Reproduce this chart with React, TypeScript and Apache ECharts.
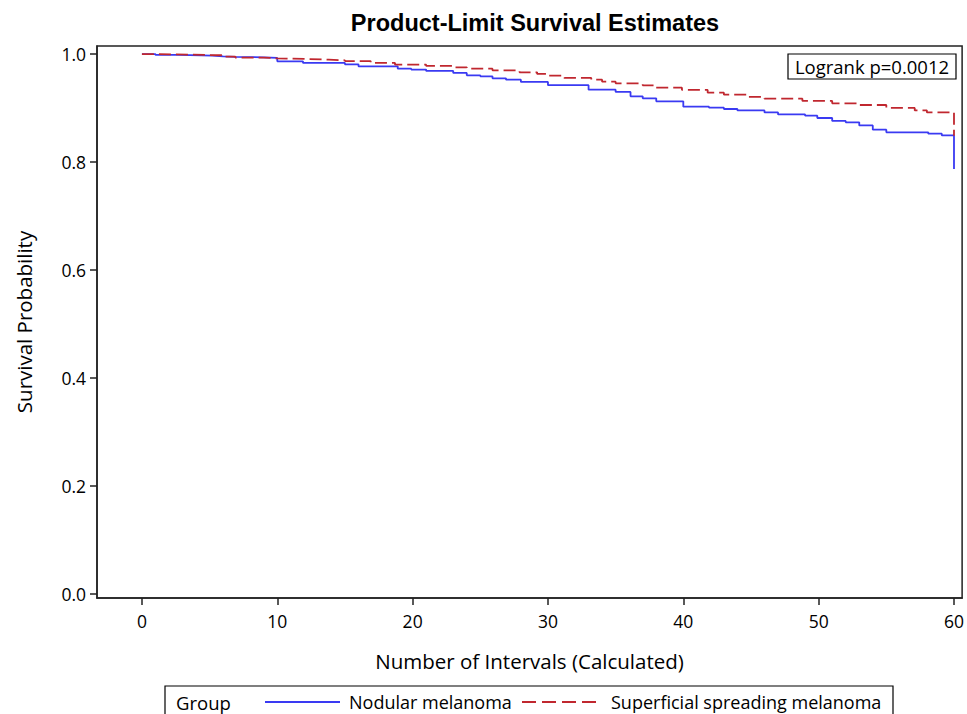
import React, { useEffect, useRef } from "react";
import * as echarts from "echarts";

const xTicks = [0, 10, 20, 30, 40, 50, 60];
const yTicks = [0, 0.2, 0.4, 0.6, 0.8, 1.0];

// Nodular melanoma: [time, survival]
const nodularTimes = [0, 1, 2.7, 5.2, 6, 6.9, 9, 10, 11.9, 15, 16, 18.9, 19.9, 21, 23, 24, 25, 25.9, 26.9, 28, 30, 33, 35, 36.1, 37, 38, 40, 41.9, 43, 44, 46, 47, 49, 49.9, 51, 52, 53, 54, 55, 58.1, 59.1, 60, 60];
const nodularSurv = [1.0, 0.9985, 0.9972, 0.9959, 0.9948, 0.9941, 0.993, 0.9867, 0.9837, 0.9811, 0.9774, 0.9731, 0.9713, 0.9689, 0.9652, 0.9607, 0.9589, 0.9551, 0.9527, 0.9485, 0.9425, 0.9342, 0.9299, 0.9218, 0.9181, 0.9125, 0.9027, 0.9008, 0.8984, 0.8958, 0.8921, 0.8884, 0.886, 0.8817, 0.8762, 0.8736, 0.868, 0.8601, 0.8551, 0.8526, 0.8495, 0.8495, 0.7872];

// Superficial spreading melanoma
const ssmTimes = [0, 1, 3.4, 6, 6.9, 9, 10, 12, 13.8, 15, 16.9, 18.7, 21, 23, 24, 25.9, 27.9, 29.2, 30, 31.2, 33.2, 34, 35, 37, 37.9, 39.9, 41.8, 43, 44.8, 46, 48.8, 51, 53, 55, 57.1, 58, 60, 60];
const ssmSurv = [1.0, 0.9991, 0.9978, 0.9954, 0.9935, 0.9922, 0.9911, 0.9898, 0.9885, 0.987, 0.9837, 0.9805, 0.9781, 0.9755, 0.9731, 0.97, 0.9663, 0.9633, 0.9601, 0.9559, 0.9527, 0.949, 0.9459, 0.9422, 0.9379, 0.9336, 0.9286, 0.9249, 0.9207, 0.9175, 0.9133, 0.9088, 0.9058, 0.9003, 0.8958, 0.8921, 0.8921, 0.849];

const seriesNames = ["Nodular melanoma", "Superficial spreading melanoma"];
const titleText = "Product-Limit Survival Estimates";
const xName = "Number of Intervals (Calculated)";
const yName = "Survival Probability";
const insetText = "Logrank p=0.0012";
const legendTitle = "Group";

const FONT = "'Open Sans', 'Noto Sans', sans-serif";
const TITLE_FONT = "'Liberation Sans', Arial, sans-serif";
const BLUE = "#3a3af2";
const RED = "#c0272f";

export default function App() {
  const ref = useRef<HTMLDivElement>(null);
  useEffect(() => {
    if (!ref.current) return;
    const chart = echarts.init(ref.current, undefined, { renderer: "svg" });
    const zip = (a: number[], b: number[]) => a.map((t, i) => [t, b[i]]);
    const legendY = 702;
    chart.setOption({
      animation: false,
      backgroundColor: "#fff",
      title: {
        text: titleText,
        left: 530,
        textAlign: "center",
        top: 6,
        textStyle: { fontFamily: TITLE_FONT, fontWeight: "bold", fontSize: 23.5, color: "#000" },
      },
      grid: {
        left: 97,
        right: 4,
        top: 46,
        bottom: 116,
        show: true,
        borderColor: "#222",
        borderWidth: 1.5,
        backgroundColor: "transparent",
      },
      xAxis: {
        type: "value",
        min: -3.32,
        max: 60.6,
        name: xName,
        nameLocation: "middle",
        nameGap: 52,
        nameTextStyle: { fontFamily: FONT, fontSize: 20.5, color: "#000" },
        axisLine: { show: true, onZero: false, lineStyle: { color: "#222", width: 1.5 } },
        axisTick: { show: true, customValues: xTicks, length: 7, lineStyle: { color: "#222", width: 1.5 } },
        axisLabel: { customValues: xTicks, margin: 14, fontFamily: FONT, fontSize: 17.5, color: "#000" },
        splitLine: { show: false },
      },
      yAxis: {
        type: "value",
        min: -0.007,
        max: 1.015,
        name: yName,
        nameLocation: "middle",
        nameGap: 63,
        nameTextStyle: { fontFamily: FONT, fontSize: 20.5, color: "#000" },
        axisLine: { show: true, onZero: false, lineStyle: { color: "#222", width: 1.5 } },
        axisTick: { show: true, customValues: yTicks, length: 7, lineStyle: { color: "#222", width: 1.5 } },
        axisLabel: {
          customValues: yTicks,
          margin: 11,
          fontFamily: FONT,
          fontSize: 17.5,
          color: "#000",
          formatter: (v: number) => v.toFixed(1),
        },
        splitLine: { show: false },
      },
      series: [
        {
          name: seriesNames[0],
          type: "line",
          step: "end",
          symbol: "none",
          data: zip(nodularTimes, nodularSurv),
          lineStyle: { color: BLUE, width: 1.8 },
          itemStyle: { color: BLUE },
        },
        {
          name: seriesNames[1],
          type: "line",
          step: "end",
          symbol: "none",
          data: zip(ssmTimes, ssmSurv),
          lineStyle: { color: RED, width: 1.8, type: [12, 5] },
          itemStyle: { color: RED },
        },
      ],
      graphic: [
        {
          type: "rect",
          shape: { x: 788, y: 54, width: 168, height: 25 },
          style: { fill: "#fff", stroke: "#000", lineWidth: 1.2 },
          z: 10,
        },
        {
          type: "text",
          x: 872,
          y: 66.5,
          z: 11,
          style: {
            text: insetText,
            fontFamily: FONT,
            fontSize: 18.5,
            fill: "#000",
            align: "center",
            verticalAlign: "middle",
          },
        },
        {
          type: "rect",
          shape: { x: 165, y: 686, width: 728, height: 40 },
          style: { fill: "none", stroke: "#000", lineWidth: 1.2 },
        },
        {
          type: "text",
          x: 176,
          y: legendY,
          style: {
            text: legendTitle,
            fontFamily: FONT,
            fontSize: 18.5,
            fill: "#000",
            align: "left",
            verticalAlign: "middle",
          },
        },
        {
          type: "line",
          shape: { x1: 265, y1: legendY, x2: 340, y2: legendY },
          style: { stroke: BLUE, lineWidth: 1.8 },
        },
        {
          type: "text",
          x: 349,
          y: legendY,
          style: {
            text: seriesNames[0],
            fontFamily: FONT,
            fontSize: 18,
            fill: "#000",
            align: "left",
            verticalAlign: "middle",
          },
        },
        {
          type: "line",
          shape: { x1: 522, y1: legendY, x2: 602, y2: legendY },
          style: { stroke: RED, lineWidth: 1.8, lineDash: [14, 6] },
        },
        {
          type: "text",
          x: 611,
          y: legendY,
          style: {
            text: seriesNames[1],
            fontFamily: FONT,
            fontSize: 18,
            fill: "#000",
            align: "left",
            verticalAlign: "middle",
          },
        },
      ],
    });
    return () => chart.dispose();
  }, []);
  return (
    <div
      ref={ref}
      style={{ position: "fixed", left: 0, top: 0, width: 967, height: 714, background: "#fff" }}
    />
  );
}
